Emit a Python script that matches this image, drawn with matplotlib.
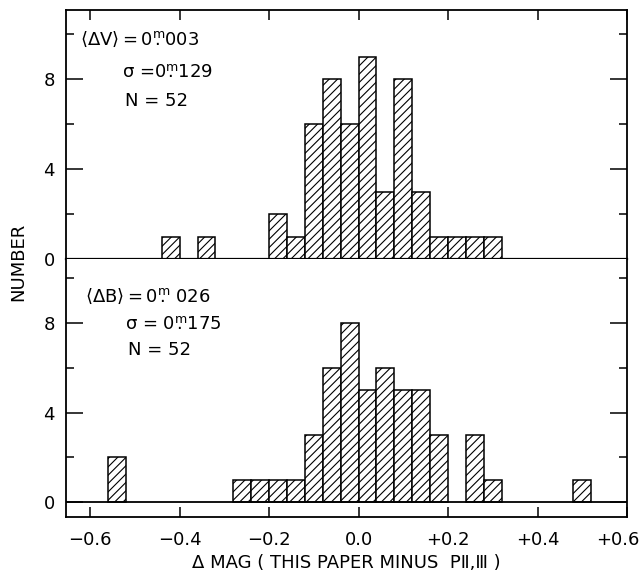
import matplotlib
matplotlib.use("Agg")
import matplotlib.pyplot as plt
import matplotlib.transforms as mtransforms
import numpy as np

# histogram bins: left edges (mag) and counts, bin width 0.04
bin_width = 0.04
v_left = [-0.44, -0.36, -0.20, -0.16, -0.12, -0.08, -0.04, 0.00, 0.04, 0.08, 0.12, 0.16, 0.20, 0.24, 0.28]
v_count = [1, 1, 2, 1, 6, 8, 6, 9, 3, 8, 3, 1, 1, 1, 1]
b_left = [-0.56, -0.28, -0.24, -0.20, -0.16, -0.12, -0.08, -0.04, 0.00, 0.04, 0.08, 0.12, 0.16, 0.24, 0.28, 0.48]
b_count = [2, 1, 1, 1, 1, 3, 6, 8, 5, 6, 5, 5, 3, 3, 1, 1]

x_ticks = [-0.6, -0.4, -0.2, 0.0, 0.2, 0.4, 0.6]
x_labels = ["\u22120.6", "\u22120.4", "\u22120.2", "0.0", "+0.2", "+0.4", "+0.6"]

plt.rcParams["font.family"] = ["DejaVu Sans"]
plt.rcParams["mathtext.default"] = "regular"
plt.rcParams["hatch.linewidth"] = 0.8

fig = plt.figure(figsize=(6.42, 5.75), dpi=100)
L, R = 66 / 642, 627 / 642
y_top, y_mid, y_bot = 1 - 10 / 575, 1 - 259 / 575, 1 - 517 / 575
ax1 = fig.add_axes([L, y_mid, R - L, y_top - y_mid])
ax2 = fig.add_axes([L, y_bot, R - L, y_mid - y_bot])

for ax, left, count in [(ax1, v_left, v_count), (ax2, b_left, b_count)]:
    ax.bar(left, count, width=bin_width, align="edge", facecolor="white",
           edgecolor="black", hatch="////", linewidth=1.1, zorder=2)
    ax.set_xlim(-0.654, 0.6)
    ax.set_yticks([0, 4, 8])
    ax.set_yticklabels(["0", "4", "8"], fontsize=13)
    ax.set_yticks([2, 6, 10], minor=True)
    ax.tick_params(axis="y", which="major", direction="in", length=12, width=1.1,
                   left=True, right=True, pad=8)
    ax.tick_params(axis="y", which="minor", direction="in", length=6, width=1.1,
                   left=True, right=True)
    for s in ax.spines.values():
        s.set_linewidth(1.3)

ax1.set_ylim(0, 11.07)
ax2.set_ylim(-0.66, 10.85)
ax2.axhline(0, color="black", linewidth=1.3, zorder=3)
ax1.spines["bottom"].set_linewidth(1.6)

ax1.set_xticks(x_ticks)
ax1.tick_params(axis="x", which="both", direction="in", length=7, width=1.1,
                top=True, bottom=False, labelbottom=False)
ax2.set_xticks(x_ticks)
ax2.set_xticklabels(x_labels, fontsize=13)
ax2.tick_params(axis="x", direction="in", length=7, width=1.1, top=False,
                bottom=True, pad=10)
ax2.spines["top"].set_visible(False)

# keep the last tick label inside the figure
last = ax2.get_xticklabels()[-1]
last.set_transform(last.get_transform() +
                   mtransforms.ScaledTranslation(-9 / 100, 0, fig.dpi_scale_trans))

ax2.set_xlabel("\u0394 MAG ( THIS PAPER MINUS  P\u2161,\u2162 )", fontsize=13, labelpad=4)
fig.text(0.028, 1 - 262 / 575, "NUMBER", rotation=90, fontsize=13,
         ha="center", va="center")

# statistics text
ax1.text(0.025, 0.88, r"$\langle\Delta V\rangle=0\overset{m}{.}003$",
         transform=ax1.transAxes, fontsize=13, va="center")
ax1.text(0.10, 0.745, r"$\sigma$ =0$\overset{m}{.}$129",
         transform=ax1.transAxes, fontsize=13, va="center")
ax1.text(0.105, 0.635, "N = 52", transform=ax1.transAxes, fontsize=13, va="center")

ax2.text(0.034, 0.853, r"$\langle\Delta B\rangle= 0\overset{m}{.}$ 026",
         transform=ax2.transAxes, fontsize=13, va="center")
ax2.text(0.105, 0.744, r"$\sigma$ = 0$\overset{m}{.}$175",
         transform=ax2.transAxes, fontsize=13, va="center")
ax2.text(0.11, 0.647, "N = 52", transform=ax2.transAxes, fontsize=13, va="center")

fig.savefig("out.png", dpi=100)
plt.close(fig)
